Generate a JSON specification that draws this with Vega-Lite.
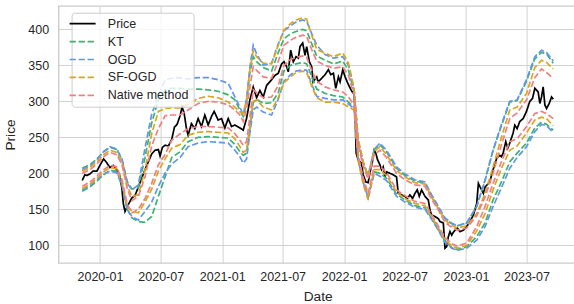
{
  "$schema": "https://vega.github.io/schema/vega-lite/v6.json",
  "width": 518,
  "height": 257,
  "autosize": {"type": "none"},
  "padding": {"left": 58.6, "top": 6, "right": 0, "bottom": 41},
  "background": "white",
  "config": {
    "font": "Liberation Sans",
    "view": {"stroke": "#cccccc", "strokeWidth": 1.4},
    "axis": {
      "grid": true, "gridColor": "#cccccc", "gridWidth": 0.9,
      "domain": false, "ticks": false,
      "labelFont": "Liberation Sans", "labelFontSize": 12.5, "labelColor": "#262626",
      "titleFont": "Liberation Sans", "titleFontSize": 13.7, "titleFontWeight": "normal", "titleColor": "#262626"
    },
    "legend": {
      "orient": "none", "legendX": 13, "legendY": 6.7,
      "symbolType": "M-2.6,0H2.6", "symbolSize": 100, "symbolStrokeWidth": 1.7,
      "labelOffset": 19, "labelFont": "Liberation Sans", "labelFontSize": 12.5, "labelColor": "#262626",
      "fillColor": "rgba(255,255,255,0.8)", "strokeColor": "#cccccc", "cornerRadius": 3,
      "padding": 4.75, "rowPadding": 4.9
    }
  },
  "datasets": {
    "price": [
      {"date":"2019-11-09","Price":190},{"date":"2019-11-17","Price":198},{"date":"2019-11-23","Price":197},{"date":"2019-12-02","Price":199},{"date":"2019-12-11","Price":203},{"date":"2019-12-23","Price":203},
      {"date":"2020-01-01","Price":211},{"date":"2020-01-12","Price":220},{"date":"2020-01-21","Price":215},{"date":"2020-01-31","Price":208},{"date":"2020-02-10","Price":211},{"date":"2020-02-20","Price":205},
      {"date":"2020-03-01","Price":196},{"date":"2020-03-07","Price":178},{"date":"2020-03-11","Price":158},{"date":"2020-03-16","Price":147},{"date":"2020-03-23","Price":154},{"date":"2020-03-31","Price":161},
      {"date":"2020-04-06","Price":166},{"date":"2020-04-15","Price":169},{"date":"2020-04-25","Price":181},{"date":"2020-05-05","Price":193},{"date":"2020-05-15","Price":205},{"date":"2020-05-25","Price":216},
      {"date":"2020-06-04","Price":227},{"date":"2020-06-14","Price":232},{"date":"2020-06-24","Price":233},{"date":"2020-06-29","Price":224},{"date":"2020-07-06","Price":236},{"date":"2020-07-14","Price":239},
      {"date":"2020-07-24","Price":238},{"date":"2020-08-03","Price":247},{"date":"2020-08-11","Price":264},{"date":"2020-08-19","Price":268},{"date":"2020-08-28","Price":280},{"date":"2020-09-03","Price":292},
      {"date":"2020-09-09","Price":284},{"date":"2020-09-16","Price":262},{"date":"2020-09-21","Price":253},{"date":"2020-10-01","Price":269},{"date":"2020-10-11","Price":262},{"date":"2020-10-21","Price":276},
      {"date":"2020-10-31","Price":265},{"date":"2020-11-10","Price":281},{"date":"2020-11-20","Price":267},{"date":"2020-11-30","Price":279},{"date":"2020-12-08","Price":286},{"date":"2020-12-20","Price":274},
      {"date":"2020-12-30","Price":276},{"date":"2021-01-09","Price":263},{"date":"2021-01-19","Price":276},{"date":"2021-01-29","Price":265},{"date":"2021-02-08","Price":267},{"date":"2021-02-23","Price":263},
      {"date":"2021-03-05","Price":260},{"date":"2021-03-15","Price":276},{"date":"2021-03-25","Price":302},{"date":"2021-04-04","Price":320},{"date":"2021-04-14","Price":305},{"date":"2021-04-24","Price":315},
      {"date":"2021-05-04","Price":306},{"date":"2021-05-14","Price":322},{"date":"2021-05-29","Price":330},{"date":"2021-06-08","Price":336},{"date":"2021-06-18","Price":339},{"date":"2021-06-28","Price":352},
      {"date":"2021-07-05","Price":355},{"date":"2021-07-13","Price":348},{"date":"2021-07-18","Price":341},{"date":"2021-07-25","Price":371},{"date":"2021-08-02","Price":355},{"date":"2021-08-10","Price":362},
      {"date":"2021-08-17","Price":360},{"date":"2021-08-22","Price":376},{"date":"2021-08-30","Price":381},{"date":"2021-09-06","Price":364},{"date":"2021-09-11","Price":376},{"date":"2021-09-19","Price":355},
      {"date":"2021-09-26","Price":348},{"date":"2021-09-30","Price":327},{"date":"2021-10-11","Price":334},{"date":"2021-10-15","Price":327},{"date":"2021-10-26","Price":332},{"date":"2021-11-05","Price":337},
      {"date":"2021-11-15","Price":344},{"date":"2021-11-22","Price":337},{"date":"2021-11-30","Price":339},{"date":"2021-12-07","Price":318},{"date":"2021-12-15","Price":334},{"date":"2021-12-20","Price":327},
      {"date":"2021-12-28","Price":344},{"date":"2022-01-04","Price":334},{"date":"2022-01-14","Price":323},{"date":"2022-01-24","Price":314},{"date":"2022-01-31","Price":310},{"date":"2022-02-03","Price":283},
      {"date":"2022-02-06","Price":228},{"date":"2022-02-12","Price":219},{"date":"2022-02-22","Price":214},{"date":"2022-02-27","Price":198},{"date":"2022-03-07","Price":188},{"date":"2022-03-14","Price":187},
      {"date":"2022-03-19","Price":200},{"date":"2022-03-26","Price":214},{"date":"2022-04-01","Price":232},{"date":"2022-04-06","Price":228},{"date":"2022-04-11","Price":219},{"date":"2022-04-18","Price":212},
      {"date":"2022-04-23","Price":205},{"date":"2022-04-28","Price":209},{"date":"2022-05-03","Price":195},{"date":"2022-05-08","Price":202},{"date":"2022-05-18","Price":200},{"date":"2022-05-28","Price":198},
      {"date":"2022-06-07","Price":195},{"date":"2022-06-12","Price":172},{"date":"2022-06-22","Price":170},{"date":"2022-07-02","Price":168},{"date":"2022-07-09","Price":165},{"date":"2022-07-17","Price":170},
      {"date":"2022-07-25","Price":165},{"date":"2022-08-01","Price":172},{"date":"2022-08-08","Price":177},{"date":"2022-08-14","Price":168},{"date":"2022-08-21","Price":177},{"date":"2022-08-31","Price":168},
      {"date":"2022-09-10","Price":163},{"date":"2022-09-15","Price":149},{"date":"2022-09-20","Price":142},{"date":"2022-09-30","Price":140},{"date":"2022-10-10","Price":137},{"date":"2022-10-15","Price":133},
      {"date":"2022-10-25","Price":131},{"date":"2022-10-30","Price":96},{"date":"2022-11-04","Price":98},{"date":"2022-11-09","Price":112},{"date":"2022-11-14","Price":119},{"date":"2022-11-19","Price":114},
      {"date":"2022-11-24","Price":118},{"date":"2022-11-29","Price":121},{"date":"2022-12-06","Price":124},{"date":"2022-12-14","Price":119},{"date":"2022-12-24","Price":121},{"date":"2023-01-03","Price":126},
      {"date":"2023-01-13","Price":133},{"date":"2023-01-23","Price":142},{"date":"2023-02-02","Price":158},{"date":"2023-02-07","Price":186},{"date":"2023-02-12","Price":181},{"date":"2023-02-17","Price":177},
      {"date":"2023-02-22","Price":172},{"date":"2023-02-27","Price":181},{"date":"2023-03-05","Price":184},{"date":"2023-03-13","Price":188},{"date":"2023-03-23","Price":205},{"date":"2023-04-03","Price":221},
      {"date":"2023-04-12","Price":225},{"date":"2023-04-17","Price":223},{"date":"2023-04-22","Price":228},{"date":"2023-04-30","Price":244},{"date":"2023-05-06","Price":235},{"date":"2023-05-12","Price":242},
      {"date":"2023-05-22","Price":256},{"date":"2023-05-27","Price":267},{"date":"2023-06-03","Price":262},{"date":"2023-06-11","Price":272},{"date":"2023-06-21","Price":276},{"date":"2023-07-01","Price":286},
      {"date":"2023-07-11","Price":300},{"date":"2023-07-19","Price":304},{"date":"2023-07-26","Price":318},{"date":"2023-08-05","Price":313},{"date":"2023-08-10","Price":297},{"date":"2023-08-15","Price":306},
      {"date":"2023-08-20","Price":320},{"date":"2023-08-25","Price":295},{"date":"2023-08-30","Price":290},{"date":"2023-09-07","Price":297},{"date":"2023-09-14","Price":306},{"date":"2023-09-19","Price":303}
    ],
    "bands": [
      {"date":"2019-11-09","KT_u":207,"KT_l":175,"OGD_u":205,"OGD_l":177,"SF_u":203,"SF_l":179,"NM_u":200,"NM_l":182},
      {"date":"2019-12-02","KT_u":212,"KT_l":181,"OGD_u":210,"OGD_l":183,"SF_u":208,"SF_l":185,"NM_u":205,"NM_l":188},
      {"date":"2019-12-23","KT_u":220,"KT_l":189,"OGD_u":219,"OGD_l":191,"SF_u":216,"SF_l":193,"NM_u":213,"NM_l":196},
      {"date":"2020-01-12","KT_u":230,"KT_l":198,"OGD_u":230,"OGD_l":199,"SF_u":226,"SF_l":202,"NM_u":223,"NM_l":205},
      {"date":"2020-01-31","KT_u":236,"KT_l":204,"OGD_u":237,"OGD_l":203,"SF_u":232,"SF_l":208,"NM_u":229,"NM_l":211},
      {"date":"2020-02-20","KT_u":233,"KT_l":203,"OGD_u":234,"OGD_l":201,"SF_u":229,"SF_l":206,"NM_u":226,"NM_l":209},
      {"date":"2020-03-07","KT_u":219,"KT_l":185,"OGD_u":220,"OGD_l":183,"SF_u":215,"SF_l":188,"NM_u":212,"NM_l":191},
      {"date":"2020-03-23","KT_u":188,"KT_l":150,"OGD_u":186,"OGD_l":149,"SF_u":182,"SF_l":154,"NM_u":178,"NM_l":157},
      {"date":"2020-04-06","KT_u":178,"KT_l":138,"OGD_u":177,"OGD_l":140,"SF_u":168,"SF_l":147,"NM_u":162,"NM_l":145},
      {"date":"2020-04-25","KT_u":180,"KT_l":133,"OGD_u":184,"OGD_l":135,"SF_u":170,"SF_l":145,"NM_u":168,"NM_l":150},
      {"date":"2020-05-15","KT_u":222,"KT_l":132,"OGD_u":235,"OGD_l":147,"SF_u":205,"SF_l":160,"NM_u":195,"NM_l":165},
      {"date":"2020-06-04","KT_u":270,"KT_l":140,"OGD_u":282,"OGD_l":160,"SF_u":255,"SF_l":178,"NM_u":238,"NM_l":186},
      {"date":"2020-06-24","KT_u":302,"KT_l":168,"OGD_u":308,"OGD_l":182,"SF_u":286,"SF_l":203,"NM_u":262,"NM_l":212},
      {"date":"2020-07-14","KT_u":316,"KT_l":195,"OGD_u":330,"OGD_l":200,"SF_u":290,"SF_l":220,"NM_u":280,"NM_l":226},
      {"date":"2020-08-03","KT_u":318,"KT_l":222,"OGD_u":332,"OGD_l":213,"SF_u":291,"SF_l":235,"NM_u":281,"NM_l":246},
      {"date":"2020-08-28","KT_u":318,"KT_l":230,"OGD_u":333,"OGD_l":222,"SF_u":291,"SF_l":240,"NM_u":281,"NM_l":255},
      {"date":"2020-09-21","KT_u":317,"KT_l":244,"OGD_u":331,"OGD_l":237,"SF_u":296,"SF_l":253,"NM_u":288,"NM_l":262},
      {"date":"2020-10-21","KT_u":317,"KT_l":250,"OGD_u":333,"OGD_l":242,"SF_u":304,"SF_l":257,"NM_u":297,"NM_l":265},
      {"date":"2020-11-20","KT_u":316,"KT_l":251,"OGD_u":333,"OGD_l":244,"SF_u":307,"SF_l":258,"NM_u":300,"NM_l":265},
      {"date":"2020-12-20","KT_u":314,"KT_l":250,"OGD_u":330,"OGD_l":243,"SF_u":305,"SF_l":257,"NM_u":299,"NM_l":264},
      {"date":"2021-01-19","KT_u":309,"KT_l":249,"OGD_u":325,"OGD_l":242,"SF_u":299,"SF_l":256,"NM_u":295,"NM_l":263},
      {"date":"2021-02-08","KT_u":302,"KT_l":240,"OGD_u":306,"OGD_l":232,"SF_u":292,"SF_l":248,"NM_u":288,"NM_l":255},
      {"date":"2021-02-23","KT_u":288,"KT_l":230,"OGD_u":292,"OGD_l":223,"SF_u":285,"SF_l":237,"NM_u":281,"NM_l":246},
      {"date":"2021-03-05","KT_u":279,"KT_l":225,"OGD_u":281,"OGD_l":214,"SF_u":283,"SF_l":229,"NM_u":272,"NM_l":239},
      {"date":"2021-03-15","KT_u":300,"KT_l":228,"OGD_u":303,"OGD_l":220,"SF_u":302,"SF_l":232,"NM_u":290,"NM_l":244},
      {"date":"2021-03-25","KT_u":340,"KT_l":262,"OGD_u":348,"OGD_l":256,"SF_u":344,"SF_l":266,"NM_u":320,"NM_l":279},
      {"date":"2021-04-04","KT_u":362,"KT_l":298,"OGD_u":378,"OGD_l":288,"SF_u":370,"SF_l":300,"NM_u":348,"NM_l":316},
      {"date":"2021-04-14","KT_u":355,"KT_l":303,"OGD_u":366,"OGD_l":292,"SF_u":362,"SF_l":302,"NM_u":343,"NM_l":312},
      {"date":"2021-05-04","KT_u":347,"KT_l":297,"OGD_u":350,"OGD_l":285,"SF_u":353,"SF_l":292,"NM_u":334,"NM_l":305},
      {"date":"2021-05-29","KT_u":342,"KT_l":298,"OGD_u":353,"OGD_l":281,"SF_u":352,"SF_l":288,"NM_u":332,"NM_l":306},
      {"date":"2021-06-18","KT_u":368,"KT_l":312,"OGD_u":380,"OGD_l":303,"SF_u":378,"SF_l":305,"NM_u":356,"NM_l":322},
      {"date":"2021-07-05","KT_u":387,"KT_l":342,"OGD_u":398,"OGD_l":328,"SF_u":399,"SF_l":326,"NM_u":378,"NM_l":350},
      {"date":"2021-07-25","KT_u":394,"KT_l":350,"OGD_u":405,"OGD_l":337,"SF_u":408,"SF_l":334,"NM_u":385,"NM_l":358},
      {"date":"2021-08-10","KT_u":397,"KT_l":352,"OGD_u":410,"OGD_l":342,"SF_u":413,"SF_l":340,"NM_u":389,"NM_l":361},
      {"date":"2021-08-30","KT_u":400,"KT_l":354,"OGD_u":413,"OGD_l":344,"SF_u":416,"SF_l":342,"NM_u":392,"NM_l":363},
      {"date":"2021-09-11","KT_u":398,"KT_l":352,"OGD_u":411,"OGD_l":343,"SF_u":414,"SF_l":340,"NM_u":390,"NM_l":361},
      {"date":"2021-09-26","KT_u":380,"KT_l":334,"OGD_u":394,"OGD_l":324,"SF_u":392,"SF_l":321,"NM_u":372,"NM_l":343},
      {"date":"2021-10-11","KT_u":363,"KT_l":317,"OGD_u":378,"OGD_l":307,"SF_u":372,"SF_l":305,"NM_u":356,"NM_l":328},
      {"date":"2021-11-05","KT_u":357,"KT_l":311,"OGD_u":365,"OGD_l":304,"SF_u":367,"SF_l":299,"NM_u":350,"NM_l":320},
      {"date":"2021-11-30","KT_u":352,"KT_l":308,"OGD_u":360,"OGD_l":302,"SF_u":362,"SF_l":299,"NM_u":346,"NM_l":316},
      {"date":"2021-12-28","KT_u":356,"KT_l":306,"OGD_u":362,"OGD_l":302,"SF_u":367,"SF_l":297,"NM_u":348,"NM_l":313},
      {"date":"2022-01-14","KT_u":343,"KT_l":299,"OGD_u":350,"OGD_l":296,"SF_u":353,"SF_l":292,"NM_u":336,"NM_l":306},
      {"date":"2022-01-31","KT_u":313,"KT_l":292,"OGD_u":316,"OGD_l":290,"SF_u":318,"SF_l":288,"NM_u":308,"NM_l":295},
      {"date":"2022-02-12","KT_u":244,"KT_l":222,"OGD_u":246,"OGD_l":219,"SF_u":248,"SF_l":217,"NM_u":240,"NM_l":225},
      {"date":"2022-02-27","KT_u":214,"KT_l":190,"OGD_u":215,"OGD_l":188,"SF_u":217,"SF_l":185,"NM_u":210,"NM_l":194},
      {"date":"2022-03-14","KT_u":196,"KT_l":168,"OGD_u":197,"OGD_l":166,"SF_u":196,"SF_l":163,"NM_u":192,"NM_l":172},
      {"date":"2022-04-01","KT_u":233,"KT_l":202,"OGD_u":233,"OGD_l":200,"SF_u":230,"SF_l":205,"NM_u":226,"NM_l":210},
      {"date":"2022-04-18","KT_u":240,"KT_l":200,"OGD_u":242,"OGD_l":196,"SF_u":237,"SF_l":205,"NM_u":232,"NM_l":210},
      {"date":"2022-05-08","KT_u":230,"KT_l":193,"OGD_u":232,"OGD_l":190,"SF_u":226,"SF_l":197,"NM_u":222,"NM_l":201},
      {"date":"2022-06-07","KT_u":207,"KT_l":171,"OGD_u":209,"OGD_l":168,"SF_u":204,"SF_l":174,"NM_u":200,"NM_l":177},
      {"date":"2022-07-02","KT_u":197,"KT_l":163,"OGD_u":199,"OGD_l":160,"SF_u":195,"SF_l":165,"NM_u":191,"NM_l":169},
      {"date":"2022-08-01","KT_u":189,"KT_l":155,"OGD_u":191,"OGD_l":153,"SF_u":187,"SF_l":158,"NM_u":184,"NM_l":161},
      {"date":"2022-08-31","KT_u":187,"KT_l":152,"OGD_u":188,"OGD_l":150,"SF_u":185,"SF_l":155,"NM_u":182,"NM_l":158},
      {"date":"2022-09-20","KT_u":169,"KT_l":138,"OGD_u":170,"OGD_l":136,"SF_u":167,"SF_l":140,"NM_u":164,"NM_l":143},
      {"date":"2022-10-10","KT_u":153,"KT_l":122,"OGD_u":154,"OGD_l":121,"SF_u":151,"SF_l":124,"NM_u":149,"NM_l":127},
      {"date":"2022-10-30","KT_u":137,"KT_l":106,"OGD_u":138,"OGD_l":104,"SF_u":135,"SF_l":108,"NM_u":132,"NM_l":111},
      {"date":"2022-11-19","KT_u":130,"KT_l":97,"OGD_u":131,"OGD_l":96,"SF_u":128,"SF_l":99,"NM_u":125,"NM_l":102},
      {"date":"2022-12-06","KT_u":127,"KT_l":94,"OGD_u":127,"OGD_l":93,"SF_u":124,"SF_l":96,"NM_u":121,"NM_l":99},
      {"date":"2023-01-03","KT_u":131,"KT_l":98,"OGD_u":131,"OGD_l":96,"SF_u":127,"SF_l":100,"NM_u":124,"NM_l":103},
      {"date":"2023-02-02","KT_u":154,"KT_l":112,"OGD_u":154,"OGD_l":107,"SF_u":144,"SF_l":120,"NM_u":141,"NM_l":126},
      {"date":"2023-02-27","KT_u":191,"KT_l":131,"OGD_u":190,"OGD_l":126,"SF_u":172,"SF_l":144,"NM_u":167,"NM_l":154},
      {"date":"2023-03-23","KT_u":232,"KT_l":163,"OGD_u":232,"OGD_l":154,"SF_u":209,"SF_l":177,"NM_u":200,"NM_l":186},
      {"date":"2023-04-17","KT_u":266,"KT_l":188,"OGD_u":268,"OGD_l":180,"SF_u":250,"SF_l":207,"NM_u":240,"NM_l":216},
      {"date":"2023-05-12","KT_u":299,"KT_l":216,"OGD_u":300,"OGD_l":207,"SF_u":288,"SF_l":232,"NM_u":276,"NM_l":244},
      {"date":"2023-06-03","KT_u":301,"KT_l":228,"OGD_u":302,"OGD_l":222,"SF_u":292,"SF_l":238,"NM_u":284,"NM_l":248},
      {"date":"2023-07-01","KT_u":328,"KT_l":242,"OGD_u":330,"OGD_l":237,"SF_u":311,"SF_l":256,"NM_u":302,"NM_l":265},
      {"date":"2023-07-26","KT_u":359,"KT_l":263,"OGD_u":362,"OGD_l":258,"SF_u":347,"SF_l":274,"NM_u":333,"NM_l":283},
      {"date":"2023-08-15","KT_u":368,"KT_l":271,"OGD_u":371,"OGD_l":268,"SF_u":357,"SF_l":278,"NM_u":345,"NM_l":286},
      {"date":"2023-08-30","KT_u":366,"KT_l":268,"OGD_u":368,"OGD_l":266,"SF_u":354,"SF_l":276,"NM_u":340,"NM_l":283},
      {"date":"2023-09-19","KT_u":353,"KT_l":260,"OGD_u":356,"OGD_l":257,"SF_u":345,"SF_l":266,"NM_u":332,"NM_l":276}
    ],
    "methods": [
      {"key":"Price","method":"Price"},
      {"key":"KT_u","method":"KT"},{"key":"KT_l","method":"KT"},
      {"key":"OGD_u","method":"OGD"},{"key":"OGD_l","method":"OGD"},
      {"key":"SF_u","method":"SF-OGD"},{"key":"SF_l","method":"SF-OGD"},
      {"key":"NM_u","method":"Native method"},{"key":"NM_l","method":"Native method"}
    ]
  },
  "encoding": {
    "x": {
      "field": "date", "type": "temporal", "title": "Date",
      "scale": {"type": "utc", "domain": [{"year": 2019, "month": 8, "date": 30, "hours": 7, "utc": true}, {"year": 2023, "month": 11, "date": 28, "utc": true}]},
      "axis": {
        "format": "%Y-%m", "labelPadding": 8, "titlePadding": 6,
        "values": [
          {"year": 2020, "month": 1, "date": 1, "utc": true},
          {"year": 2020, "month": 7, "date": 1, "utc": true},
          {"year": 2021, "month": 1, "date": 1, "utc": true},
          {"year": 2021, "month": 7, "date": 1, "utc": true},
          {"year": 2022, "month": 1, "date": 1, "utc": true},
          {"year": 2022, "month": 7, "date": 1, "utc": true},
          {"year": 2023, "month": 1, "date": 1, "utc": true},
          {"year": 2023, "month": 7, "date": 1, "utc": true}
        ]
      }
    },
    "y": {
      "field": "value", "type": "quantitative", "title": "Price",
      "scale": {"domain": [75.4, 432.4], "nice": false, "zero": false},
      "axis": {"values": [100, 150, 200, 250, 300, 350, 400], "labelPadding": 10, "titlePadding": 10}
    },
    "color": {
      "field": "method", "type": "nominal", "title": null,
      "scale": {"domain": ["Price", "KT", "OGD", "SF-OGD", "Native method"], "range": ["#000000", "#3CB371", "#6495ED", "#DAA520", "#F08080"]}
    },
    "strokeDash": {
      "field": "method", "type": "nominal", "title": null,
      "scale": {"domain": ["Price", "KT", "OGD", "SF-OGD", "Native method"], "range": [[1, 0], [6.3, 2.7], [6.3, 2.7], [6.3, 2.7], [6.3, 2.7]]}
    },
    "detail": {"field": "key", "type": "nominal"}
  },
  "layer": [
    {
      "data": {"name": "price"},
      "transform": [
        {"fold": ["Price"], "as": ["key", "value"]},
        {"lookup": "key", "from": {"data": {"name": "methods"}, "key": "key", "fields": ["method"]}}
      ],
      "mark": {"type": "line", "strokeWidth": 1.7}
    },
    {
      "data": {"name": "bands"},
      "transform": [
        {"fold": ["KT_u", "KT_l", "OGD_u", "OGD_l", "SF_u", "SF_l", "NM_u", "NM_l"], "as": ["key", "value"]},
        {"lookup": "key", "from": {"data": {"name": "methods"}, "key": "key", "fields": ["method"]}}
      ],
      "mark": {"type": "line", "strokeWidth": 1.7}
    }
  ]
}
